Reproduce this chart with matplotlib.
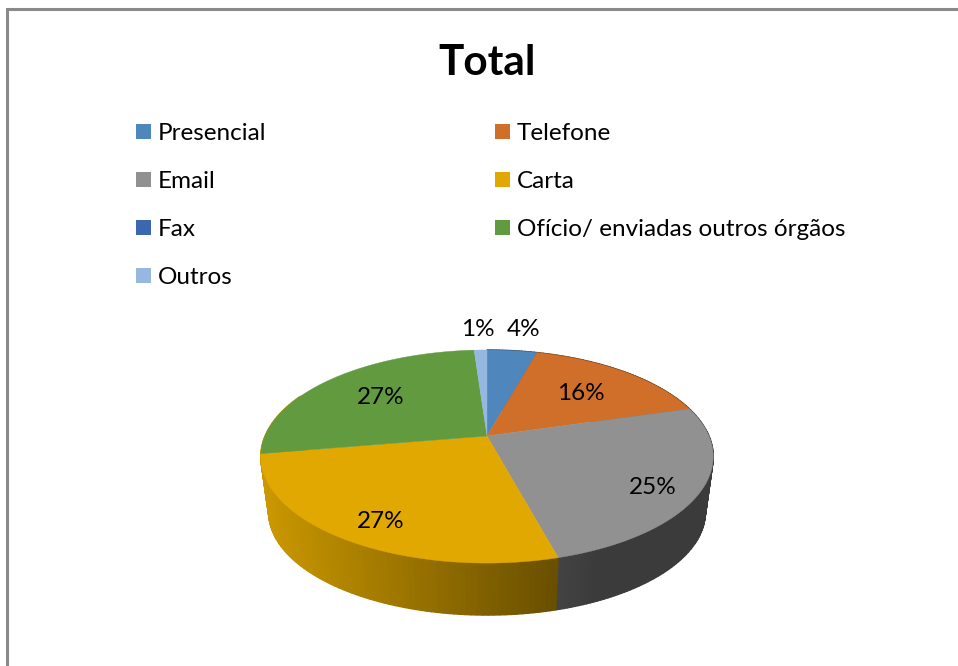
import numpy as np
import matplotlib
matplotlib.use('Agg')
import matplotlib.pyplot as plt
from matplotlib.patches import Patch, Polygon

plt.rcParams['font.family'] = ['Lato', 'DejaVu Sans']

TITLE = 'Total'
categories = ['Presencial', 'Telefone', 'Email', 'Carta', 'Fax',
              'Ofício/ enviadas outros órgãos', 'Outros']
values = [4.3, 16.2, 25.3, 26.55, 0.0, 26.55, 1.1]
colors = ['#4f86bb', '#d06f2a', '#919191', '#e0a800', '#3a67b0', '#619a3f', '#95b7e0']

# where the percentages sit, in pixels (same order as categories, no label for Fax)
LABEL_XY = [(524, 330), (581, 394), (653, 488), (381, 522), None, (381, 398), (478, 330)]

# pie geometry in pixels, perspective comes from K
CX, CY = 487, 436
RX, RY = 222, 102.6
K = 0.1925
WALL_SCALE = 0.965
VANISH_Y = 2049


def project(theta):
    # theta is measured clockwise from the top of the pie
    x, y = np.sin(theta), np.cos(theta)
    w = 1 + K * y
    return CX + RX * x / w, CY - RY * y / w


def lower(px, py):
    return CX + WALL_SCALE * (px - CX), VANISH_Y + WALL_SCALE * (py - VANISH_Y)


def wall_shade(x):
    return max(0.41, 0.89 - 0.42 * (x - 270) / 285)


fig = plt.figure(figsize=(9.58, 6.66), dpi=100, facecolor='white')
ax = fig.add_axes([0, 0, 1, 1])
ax.set_xlim(0, 958)
ax.set_ylim(666, 0)
ax.axis('off')

# chart frame, only left and top are in view
ax.plot([7, 7, 958], [666, 8.5, 8.5], color='#8a8a8a', lw=2.2, solid_joinstyle='miter')

edges = np.cumsum([0] + values) / sum(values) * 2 * np.pi

# side wall first, the top face covers whatever is behind
for i, col in enumerate(colors):
    if values[i] == 0 or edges[i] > 1.4 * np.pi:
        continue
    base = np.array(matplotlib.colors.to_rgb(col))
    stop = edges[i + 1]
    if categories[i] == 'Carta':
        # the wall turns away past the left edge, green never shows there
        stop += 0.6
    steps = np.linspace(edges[i], stop, max(int(values[i] * 4), 2))
    for a, b in zip(steps[:-1], steps[1:]):
        x0, y0 = project(a)
        x1, y1 = project(b)
        lx0, ly0 = lower(x0, y0)
        lx1, ly1 = lower(x1, y1)
        c = base * wall_shade((x0 + x1) / 2)
        ax.add_patch(Polygon([(x0, y0), (x1, y1), (lx1, ly1), (lx0, ly0)],
                             facecolor=c, edgecolor=c, lw=1.0, zorder=2))

# top face
for i, col in enumerate(colors):
    if values[i] == 0:
        continue
    t = np.linspace(edges[i], edges[i + 1], 120)
    px, py = project(t)
    pts = [(CX, CY)] + list(zip(px, py))
    ax.add_patch(Polygon(pts, facecolor=col, edgecolor=col, lw=0.3, zorder=3))

for i, xy in enumerate(LABEL_XY):
    if xy is None:
        continue
    ax.text(xy[0], xy[1], '%d%%' % round(values[i]), ha='center', va='center',
            fontsize=17.5, color='black', zorder=4)

ax.text(487.5, 63, TITLE, ha='center', va='center', fontsize=30.5, fontweight='bold', color='black')

# legend reads left to right, matplotlib fills by column
order = [0, 2, 4, 6, 1, 3, 5]
handles = [Patch(facecolor=colors[i], edgecolor='none', label=categories[i]) for i in order]
ax.legend(handles=handles, ncol=2, loc='upper left', bbox_to_anchor=(136 / 958, 1 - 123 / 666),
          frameon=False, fontsize=17.5, handlelength=0.61, handleheight=0.61, handletextpad=0.29,
          labelspacing=1.11, columnspacing=9.4, borderpad=0, borderaxespad=0)

fig.savefig('out.png', dpi=100)
